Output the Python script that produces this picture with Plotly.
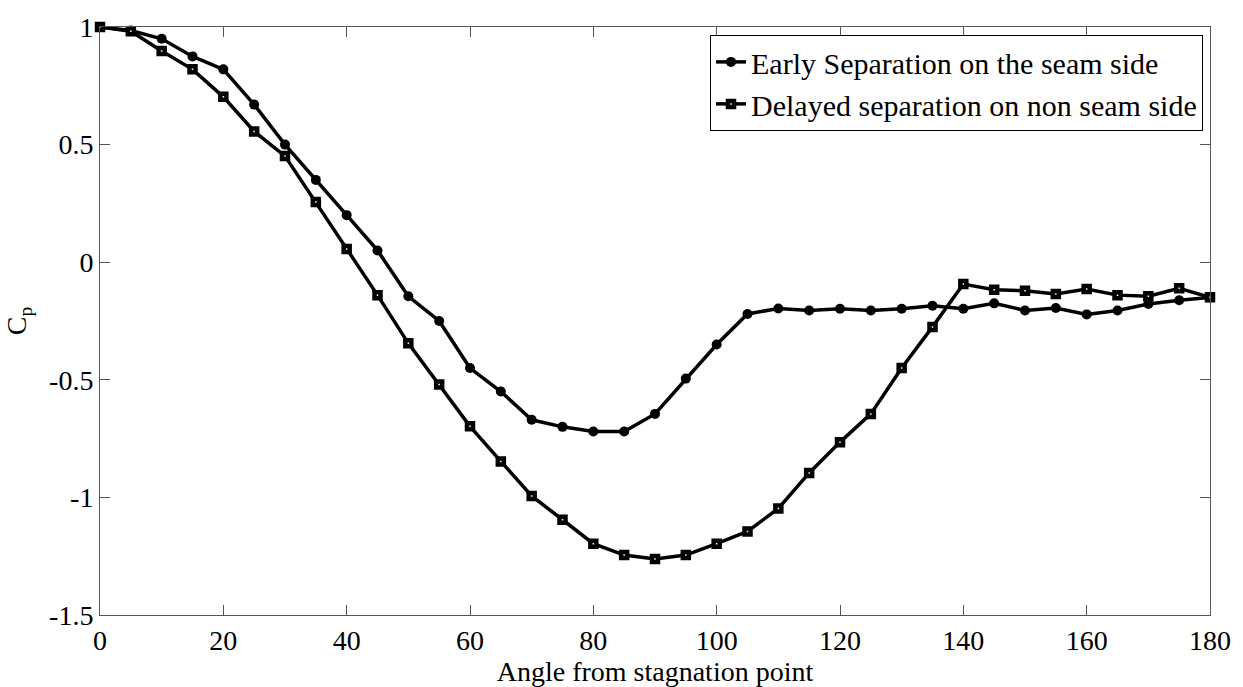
import plotly.graph_objects as go

angle = [0, 5, 10, 15, 20, 25, 30, 35, 40, 45, 50, 55, 60, 65, 70, 75, 80, 85, 90,
         95, 100, 105, 110, 115, 120, 125, 130, 135, 140, 145, 150, 155, 160, 165,
         170, 175, 180]

early_seam = [1.00, 0.985, 0.95, 0.875, 0.82, 0.67, 0.50, 0.35, 0.20, 0.05, -0.145,
              -0.25, -0.45, -0.55, -0.67, -0.70, -0.72, -0.72, -0.645, -0.495, -0.35, -0.22,
              -0.197, -0.205, -0.198, -0.205, -0.198, -0.185, -0.198, -0.175, -0.205,
              -0.195, -0.222, -0.205, -0.178, -0.162, -0.15]

delayed_nonseam = [1.00, 0.982, 0.898, 0.82, 0.703, 0.556, 0.451, 0.256, 0.056, -0.14, -0.345,
                   -0.52, -0.698, -0.847, -0.994, -1.095, -1.197, -1.245, -1.262, -1.245, -1.197, -1.145,
                   -1.047, -0.896, -0.765, -0.645, -0.45, -0.275, -0.093, -0.117, -0.121,
                   -0.135, -0.114, -0.14, -0.145, -0.111, -0.149]

x_ticks = [0, 20, 40, 60, 80, 100, 120, 140, 160, 180]
y_ticks = [-1.5, -1, -0.5, 0, 0.5, 1]
y_tick_text = ["-1.5", "-1", "-0.5", "0", "0.5", "1"]

names = ["Early Separation on the seam side", "Delayed separation on non seam side"]

FONT = "Liberation Serif"

fig = go.Figure()
fig.add_trace(go.Scatter(
    x=angle, y=early_seam, name=names[0], mode="lines+markers",
    line=dict(color="black", width=3.5),
    marker=dict(symbol="circle", size=10, color="black"),
    cliponaxis=False,
))
fig.add_trace(go.Scatter(
    x=angle, y=delayed_nonseam, name=names[1], mode="lines+markers",
    line=dict(color="black", width=3.5),
    marker=dict(symbol="square", size=6, color="white", line=dict(color="black", width=4.5)),
    cliponaxis=False,
))

axis_common = dict(
    showline=True, linecolor="#555555", linewidth=1, mirror="ticks",
    ticks="inside", ticklen=10, tickcolor="#555555", tickwidth=1,
    showgrid=False, zeroline=False,
    tickfont=dict(family=FONT, size=28, color="black"),
)

fig.update_layout(
    width=1243, height=687,
    margin=dict(l=100, r=33, t=24, b=67),
    paper_bgcolor="white", plot_bgcolor="white",
    font=dict(family=FONT, size=28, color="black"),
    xaxis=dict(range=[0, 180], tickvals=x_ticks,
               title=dict(text="Angle from stagnation point", font=dict(family=FONT, size=28), standoff=0),
               **axis_common),
    yaxis=dict(range=[-1.5, 1], tickvals=y_ticks, ticktext=y_tick_text,
               title=dict(text="C<sub>p</sub>", font=dict(family=FONT, size=28), standoff=14),
               **axis_common),
    legend=dict(x=0.9937, y=0.9866, xanchor="right", yanchor="top",
                bgcolor="white", bordercolor="black", borderwidth=1,
                font=dict(family=FONT, size=30, color="black"),
                tracegroupgap=0, itemwidth=30),
    showlegend=True,
)

fig.write_html("out.html")
